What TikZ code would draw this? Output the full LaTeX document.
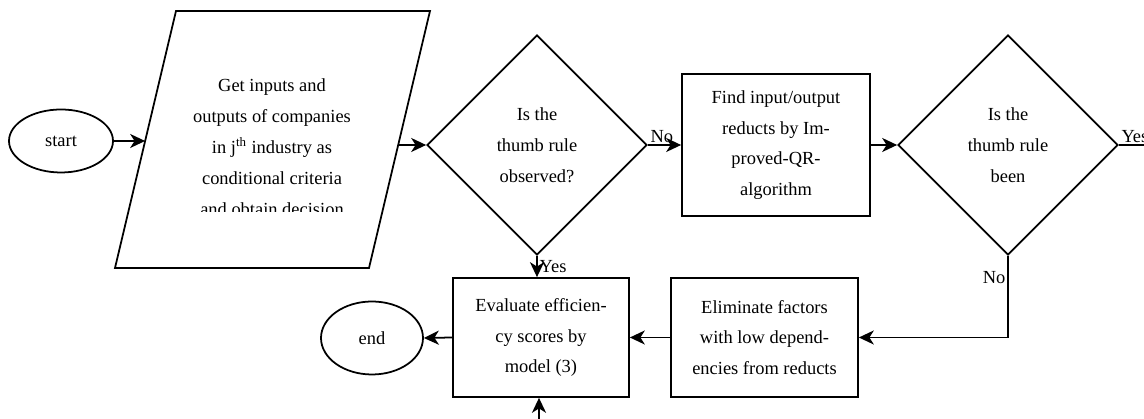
\documentclass[tikz,border=0pt]{standalone}
\usepackage{fontspec}
\setmainfont{Liberation Serif}
\usetikzlibrary{arrows.meta,positioning,shapes.geometric}

\begin{document}
\begin{tikzpicture}[x=2cm,y=2cm,
    font=\fontsize{10.5}{17.5}\selectfont,
    line width=1pt,
    terminal/.style={draw,ellipse,inner sep=0pt},
    procbox/.style={draw,rectangle,align=center,inner sep=0pt,minimum height=2.38cm},
    decision/.style={draw,diamond,aspect=1,align=center,inner sep=0pt,minimum size=4.4cm},
    flow/.style={-{Stealth[length=8.5pt,width=8pt,inset=2.5pt]}}]
    \useasboundingbox (0,0) rectangle (11.44,4.19);

    % Start and input data
    \node[terminal,minimum width=2.08cm,minimum height=1.26cm] (start) at (0.61,2.78) {start};
    \draw (1.15,1.51) -- (3.69,1.51) -- (4.30,4.08) -- (1.76,4.08) -- cycle;
    \coordinate (inleft) at (1.451,2.78);
    \coordinate (inright) at (3.982,2.74);
    \begin{scope}
        \clip (1.2,2.07) rectangle (4.3,4.1);
        \node[align=center,font=\fontsize{10.5}{17.6}\selectfont] (input) at (2.72,2.715)
            {Get inputs and\\outputs of companies\\in j\textsuperscript{th} industry as\\conditional criteria\\and obtain decision};
    \end{scope}

    % First test and reducts
    \node[decision] (dec1) at (5.37,2.74) {Is the\\thumb rule\\observed?};
    \node[procbox,minimum width=3.76cm,minimum height=2.84cm] (reduct) at (7.76,2.74)
        {Find input/output\\reducts by Im-\\proved-QR-\\algorithm};
    \node[decision] (dec2) at (10.08,2.74) {Is the\\thumb rule\\been};

    % Bottom row
    \node[procbox,minimum width=3.74cm] (elim) at (7.645,0.815)
        {Eliminate factors\\with low depend-\\encies from reducts};
    \node[procbox,minimum width=3.52cm] (eval) at (5.41,0.815)
        {Evaluate efficien-\\cy scores by\\model (3)};
    \node[terminal,minimum width=2.04cm,minimum height=1.46cm] (end) at (3.72,0.81) {end};

    % Connectors
    \coordinate (yesend) at (11.7,2.74);
    \coordinate (back) at (5.39,-0.05);
    \draw[flow] (start.east) -- (inleft);
    \draw[flow] (inright) -- (dec1.west);
    \draw[flow] (dec1.east) -- node[anchor=south west,pos=0,inner sep=1pt] (no1) {No} (reduct.west);
    \draw[flow] (reduct.east) -- (dec2.west);
    \draw (dec2.east) -- node[anchor=south west,pos=0,inner sep=1pt] (yes2) {Yes} (yesend);
    \draw[flow] (dec1.south) -- node[right,inner sep=1pt] (yes1) {Yes} (dec1.south |- eval.north);
    \draw[flow] (dec2.south) |- node[pos=0.13,left,inner sep=1pt] (no2) {No} (elim.east);
    \draw[flow] (elim.west) -- (eval.east);
    \draw[flow] (eval.west) -- (end.east);
    \draw[flow] (back) -- (back |- eval.south);
\end{tikzpicture}
\end{document}
